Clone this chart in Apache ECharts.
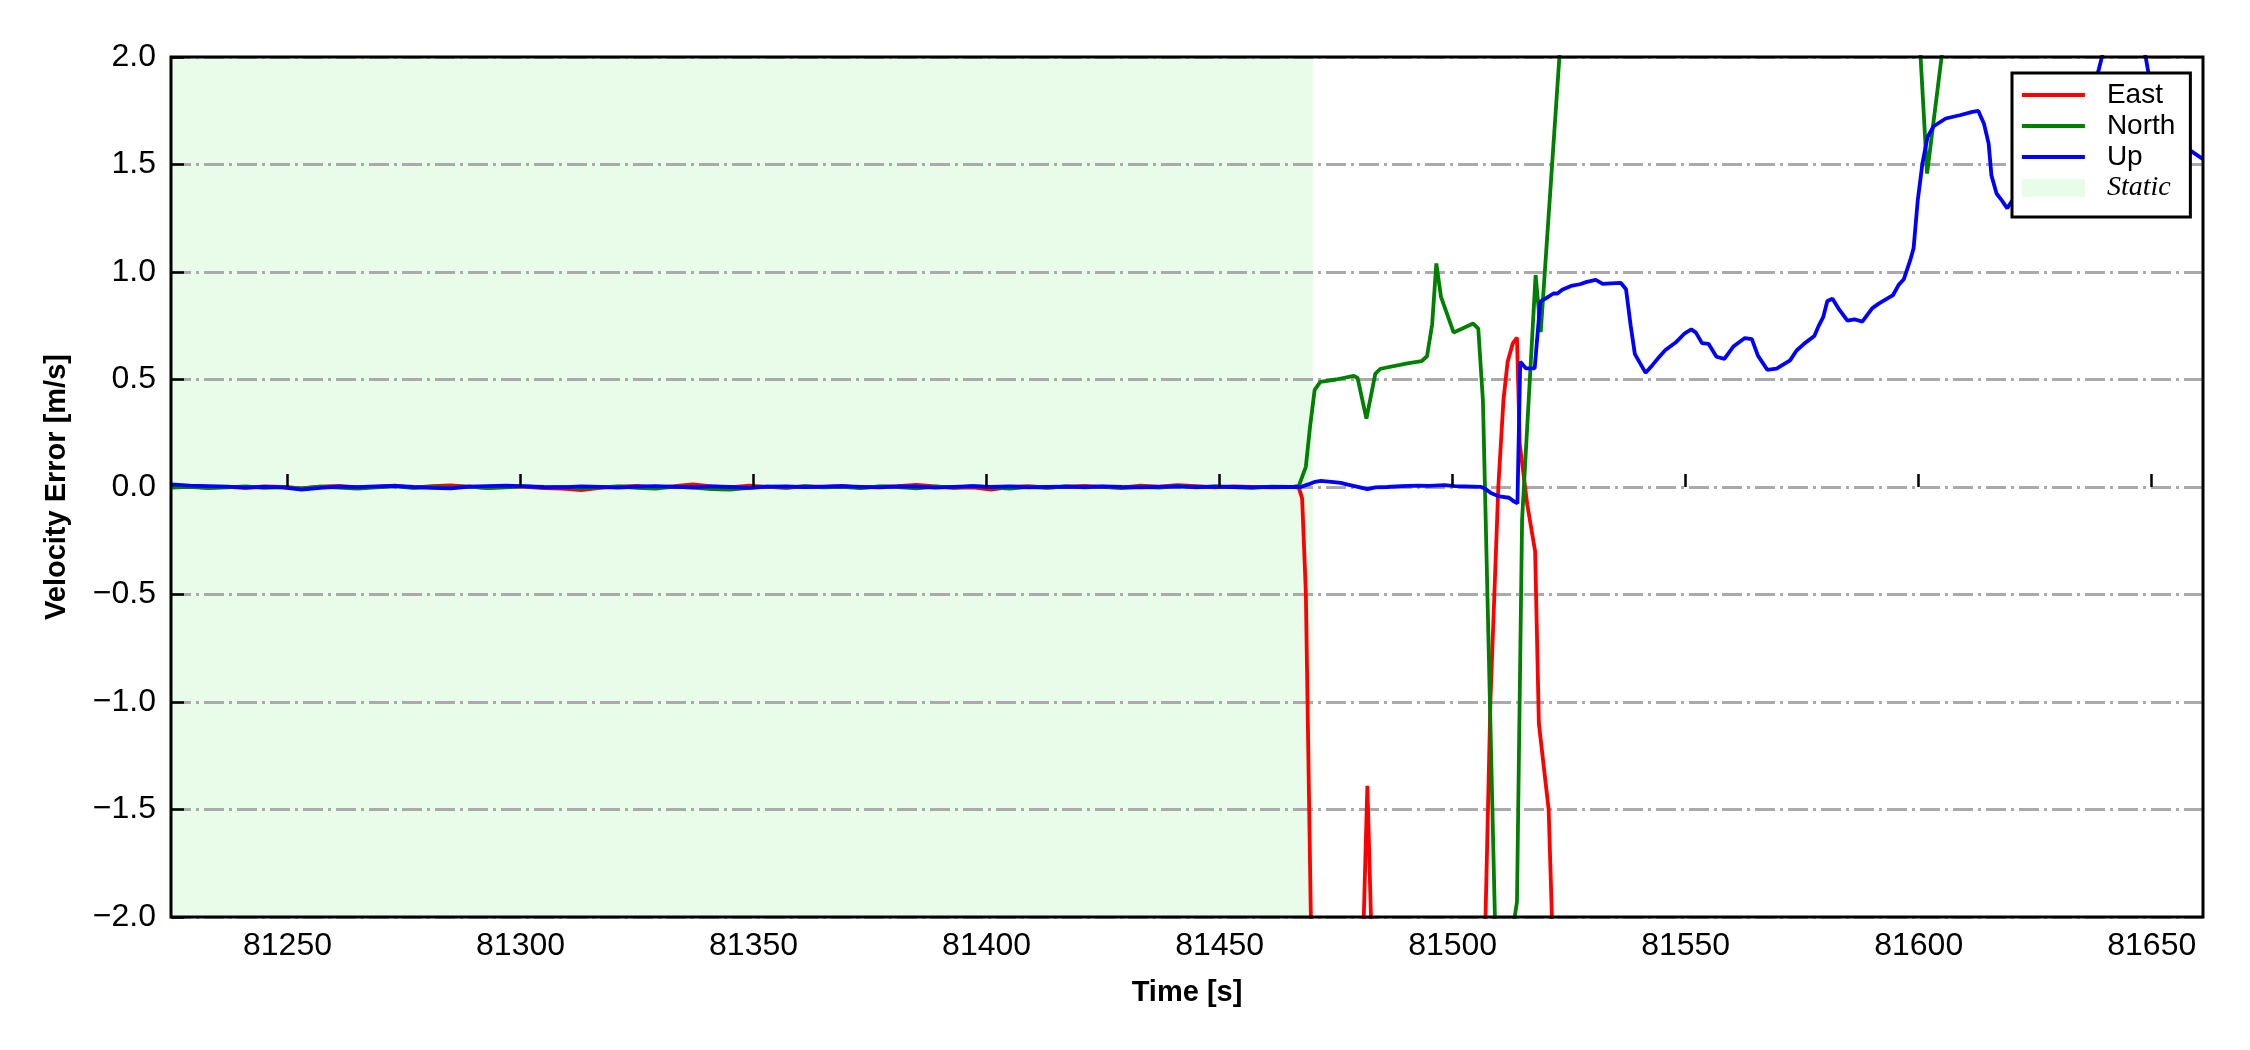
<!DOCTYPE html>
<html>
<head>
<meta charset="utf-8">
<script src="https://cdn.jsdelivr.net/npm/echarts@6/dist/echarts.min.js"></script>
<style>
html,body{margin:0;padding:0;background:#fff;}
#chart{width:2250px;height:1050px;}
</style>
</head>
<body>
<div id="chart"></div>
<script>
// ---------------- DATA ----------------
const xTicks = [81250, 81300, 81350, 81400, 81450, 81500, 81550, 81600, 81650];
const yTicks = [-2.0, -1.5, -1.0, -0.5, 0.0, 0.5, 1.0, 1.5, 2.0];
const yTickLabels = ['\u22122.0', '\u22121.5', '\u22121.0', '\u22120.5', '0.0', '0.5', '1.0', '1.5', '2.0'];
const staticSpan = [81225, 81470];
const seriesNames = ['East', 'North', 'Up', 'Static'];

// static period (shared time stamps)
const staticT = [81225,81229,81233,81237,81241,81245,81249,81253,81257,81261,
  81265,81269,81273,81277,81281,81285,81289,81293,81297,81301,
  81305,81309,81313,81317,81321,81325,81329,81333,81337,81341,
  81345,81349,81353,81357,81361,81365,81369,81373,81377,81381,
  81385,81389,81393,81397,81401,81405,81409,81413,81417,81421,
  81425,81429,81433,81437,81441,81445,81449,81453,81457,81461,
  81465];
const eastStatic = [0.004,0.002,-0.003,0.001,-0.004,0.003,0.000,-0.006,0.002,0.005,
  -0.002,0.001,0.006,-0.003,0.004,0.007,0.002,-0.004,0.003,0.001,
  -0.005,-0.008,-0.015,-0.004,0.002,0.005,-0.003,0.004,0.012,0.003,
  -0.002,0.006,0.001,-0.004,0.003,0.000,0.005,-0.003,0.002,0.004,
  0.010,0.003,-0.004,-0.002,-0.012,0.001,0.004,-0.003,0.002,0.005,
  0.000,-0.003,0.006,0.002,0.009,0.004,-0.002,0.003,0.001,-0.002,
  0.000];
const northStatic = [-0.003,0.001,-0.005,-0.002,0.003,-0.004,-0.001,-0.006,0.002,-0.003,
  -0.008,-0.002,0.003,-0.004,0.001,-0.003,0.002,-0.005,-0.002,0.004,
  -0.003,0.001,-0.006,-0.002,0.003,-0.004,-0.008,0.002,-0.003,-0.010,
  -0.012,-0.004,0.002,-0.003,0.004,-0.002,0.001,-0.005,0.003,-0.001,
  -0.006,0.002,-0.003,0.004,-0.002,-0.007,0.001,-0.004,0.003,-0.002,
  0.002,-0.005,0.001,-0.003,0.004,-0.002,0.003,-0.001,-0.004,0.002,
  0.001];
const upStatic = [0.012,0.006,0.004,0.002,-0.003,0.001,-0.002,-0.012,-0.004,0.002,
  -0.001,0.003,0.005,0.000,-0.004,-0.006,0.002,0.004,0.006,0.003,
  0.000,-0.002,0.003,0.001,-0.003,0.002,0.004,0.001,-0.002,0.003,
  0.000,-0.004,0.002,0.003,-0.001,0.002,0.004,0.001,-0.002,0.003,
  0.002,-0.003,0.001,0.004,0.000,0.003,-0.002,0.001,0.002,-0.001,
  0.003,0.000,-0.002,0.001,0.003,-0.001,0.002,0.000,-0.002,0.001,
  0.000];

// after the static period
const eastT = [81466,81467,81467.7,81468.5,81469.5,81470.5,81473,81477,81480.3,81481.7,
  81483.1,81486,81492,81498,81503,81506.2,81507.0,81508.1,81509.8,81510.9,
  81511.8,81512.9,81513.8,81514.4,81516.0,81517.7,81518.5,81520.6,81521.3,81522,
  81530,81545,81565,81590,81615,81640,81661];
const eastV = [0.000,-0.004,-0.053,-0.49,-1.9,-3.2,-3.8,-3.5,-2.5,-1.39,
  -2.5,-3.6,-4.0,-3.8,-3.4,-2.8,-2.05,-1.0,0.0,0.405,
  0.583,0.668,0.695,0.2,-0.08,-0.3,-1.1,-1.5,-2.0,-2.8,
  -3.5,-4.0,-4.3,-4.5,-4.2,-4.0,-3.9];

const northT = [81466,81467,81468.5,81469.4,81470.4,81471.6,81475,81478.8,81479.6,81481.5,
  81483.4,81484.5,81488.7,81490.3,81493.3,81494.5,81495.6,81496.5,81497.5,81500.2,
  81502.1,81504.4,81505.5,81506.5,81509.6,81511.2,81512.6,81513.8,81514.9,81517.8,
  81518.9,81524,81528,81535,81545,81560,81575,81590,81597,81599.5,
  81601.8,81606,81612,81625,81640,81661];
const northV = [0.002,0.005,0.094,0.28,0.452,0.489,0.5,0.517,0.507,0.318,
  0.526,0.55,0.568,0.575,0.585,0.608,0.756,1.04,0.884,0.719,
  0.737,0.76,0.737,0.40,-2.5,-3.0,-2.1,-1.93,-0.15,0.985,
  0.72,2.35,3.1,3.7,4.1,4.0,3.6,3.2,2.8,2.35,
  1.458,2.19,2.8,3.4,3.8,4.1];

const upT = [81467.4,81469,81470.5,81471.7,81474,81476,81477.5,81479.2,81481.7,81483.4,
  81486,81489,81492.4,81495,81498.2,81500.5,81502.4,81506,81507,81508.2,
  81510,81512.1,81513.2,81513.9,81514.5,81515.7,81517.6,81518.0,81518.8,81520,
  81521.6,81522.5,81523.5,81525.4,81527.3,81528.8,81530.7,81532.2,81534,81536.1,
  81537.2,81538.2,81539.1,81541.4,81542.9,81544.3,81545.6,81547.9,81549.8,81551.2,
  81552.2,81553.5,81554.9,81556.6,81558.3,81560.3,81562.7,81564.2,81565.5,81567.5,
  81569.5,81572.4,81573.8,81575.5,81577.6,81578.6,81579.5,81580.4,81581.5,81582.8,
  81584.7,81586.2,81587.9,81590,81591.5,81594.5,81595.7,81596.8,81598.2,81598.9,
  81599.8,81600.8,81601.9,81603.2,81605.8,81608.8,81611.5,81612.8,81614,81615,
  81615.6,81616.7,81617.7,81619,81620.1,81623,81627,81631,81635,81638.5,
  81640,81644,81647.5,81648.7,81649.5,81653,81657.6,81661];
const upV = [0.000,0.012,0.024,0.028,0.024,0.019,0.011,0.003,-0.010,-0.002,
  0.000,0.004,0.006,0.005,0.009,0.004,0.003,0.001,-0.008,-0.028,
  -0.044,-0.050,-0.068,-0.076,0.583,0.552,0.552,0.56,0.862,0.877,
  0.9,0.9,0.917,0.935,0.943,0.954,0.963,0.945,0.947,0.949,
  0.92,0.75,0.618,0.531,0.568,0.605,0.636,0.673,0.715,0.733,
  0.718,0.669,0.666,0.606,0.596,0.655,0.693,0.688,0.611,0.545,
  0.551,0.589,0.635,0.668,0.702,0.752,0.79,0.865,0.876,0.83,
  0.774,0.78,0.769,0.831,0.854,0.893,0.94,0.966,1.056,1.11,
  1.334,1.505,1.628,1.678,1.714,1.729,1.745,1.749,1.69,1.598,
  1.45,1.365,1.337,1.296,1.334,1.45,1.6,1.75,1.86,1.93,
  2.06,2.2,2.1,2.0,1.9,1.72,1.575,1.525];

// ---------------- BUILD ----------------
function pairs(ts, vs) { return ts.map((t, i) => [t, vs[i]]); }
const eastData = pairs(staticT, eastStatic).concat(pairs(eastT, eastV));
const northData = pairs(staticT, northStatic).concat(pairs(northT, northV));
const upData = pairs(staticT, upStatic).concat(pairs(upT, upV));

const SANS = '"Liberation Sans", Arial, sans-serif';
const SERIF = '"Liberation Serif", "Times New Roman", serif';
const LW = 3.8;

function lineSeries(name, color, data) {
  return {
    name: name, type: 'line', data: data, symbol: 'none', showSymbol: false,
    lineStyle: { color: color, width: LW }, itemStyle: { color: color },
    clip: true, z: 2, animation: false, silent: true
  };
}

const chart = echarts.init(document.getElementById('chart'), null, { renderer: 'canvas' });
chart.setOption({
  animation: false,
  backgroundColor: '#ffffff',
  grid: { left: 171, right: 47, top: 57, bottom: 133, show: true,
          borderColor: '#000', borderWidth: 3, backgroundColor: 'transparent', z: 3 },
  xAxis: {
    type: 'value', min: 81225, max: 81661, z: 3,
    name: 'Time [s]', nameLocation: 'middle', nameGap: 61,
    nameTextStyle: { fontFamily: SANS, fontWeight: 'bold', fontSize: 29, color: '#000' },
    axisLine: { show: false },
    axisTick: { show: true, inside: true, length: 13, customValues: xTicks,
                lineStyle: { color: '#000', width: 2.5 } },
    axisLabel: { show: true, customValues: xTicks, margin: 13, fontFamily: SANS, fontSize: 32, color: '#000',
                 formatter: v => String(v) },
    splitLine: { show: false }
  },
  yAxis: {
    type: 'value', min: -2, max: 2, interval: 0.5, z: 1.5,
    name: 'Velocity Error [m/s]', nameLocation: 'middle', nameGap: 100,
    nameTextStyle: { fontFamily: SANS, fontWeight: 'bold', fontSize: 29, color: '#000' },
    axisLine: { show: false },
    axisTick: { show: true, inside: true, length: 13, lineStyle: { color: '#000', width: 2.5 } },
    axisLabel: { margin: 15, fontFamily: SANS, fontSize: 32, color: '#000',
                 formatter: v => { const i = yTicks.findIndex(t => Math.abs(t - v) < 1e-6); return i >= 0 ? yTickLabels[i] : ''; } },
    splitLine: { show: true, lineStyle: { color: '#aaaaaa', width: 3, type: [20, 5, 3, 5] } }
  },
  legend: {
    show: true, orient: 'vertical', left: 2012, top: 73,
    padding: [8, 15, 15, 8], itemGap: 3, itemWidth: 63, itemHeight: 18,
    backgroundColor: '#ffffff', borderColor: '#000', borderWidth: 3, borderRadius: 0,
    lineStyle: { width: LW },
    textStyle: { fontFamily: SANS, fontSize: 28, color: '#000', lineHeight: 28, padding: [0, 0, 0, 17] },
    data: [
      { name: seriesNames[0], itemStyle: { opacity: 0 }, lineStyle: { width: LW } },
      { name: seriesNames[1], itemStyle: { opacity: 0 }, lineStyle: { width: LW } },
      { name: seriesNames[2], itemStyle: { opacity: 0 }, lineStyle: { width: LW } },
      { name: seriesNames[3], icon: 'rect', itemStyle: { color: '#e9fce9', opacity: 1 },
        textStyle: { fontFamily: SERIF, fontStyle: 'italic', fontSize: 28, color: '#000', padding: [0, 0, 0, 17] } }
    ],
    selectedMode: false, z: 4
  },
  series: [
    lineSeries(seriesNames[0], '#ff0000', eastData),
    lineSeries(seriesNames[1], '#008000', northData),
    lineSeries(seriesNames[2], '#0000ff', upData),
    {
      name: seriesNames[3], type: 'scatter', data: [], z: 0.1, silent: true,
      itemStyle: { color: '#e9fce9' },
      markArea: { silent: true, z: 0.1, itemStyle: { color: '#e9fce9', opacity: 1 },
                  data: [[{ xAxis: staticSpan[0] }, { xAxis: staticSpan[1] }]] }
    }
  ]
});
</script>
</body>
</html>
